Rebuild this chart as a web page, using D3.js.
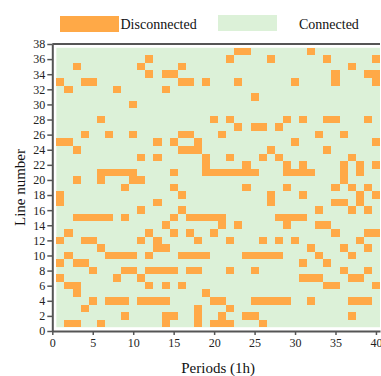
<!DOCTYPE html>
<html>
<head>
<meta charset="utf-8">
<script src="https://cdn.jsdelivr.net/npm/d3@7"></script>
<style>
  body { margin: 0; background: #fff; }
  svg { display: block; font-family: 'Liberation Serif', 'Times New Roman', serif; }
</style>
</head>
<body>
<div id="chart"></div>
<script>
const WIDTH = 381;
const HEIGHT = 376;

const periods = d3.range(1, 41);
const lineNumbers = d3.range(1, 38);
const xTicks = [0, 5, 10, 15, 20, 25, 30, 35, 40];
const yTicks = d3.range(0, 39, 2);
const legendLabels = ['Disconnected', 'Connected'];
const colors = ['#ffa947', '#dcf1d8'];

// periods in which each line is disconnected (line 1 first)
const disconnected = [
  [2, 3, 6, 14, 18, 20, 21, 22, 26],
  [9, 14, 15, 18, 21, 24, 25, 37],
  [4, 18, 22],
  [5, 7, 8, 9, 11, 12, 13, 14, 20, 21, 25, 26, 27, 28, 29, 32, 37, 38, 39],
  [3, 19],
  [2, 3, 12, 14, 16, 34, 35, 40],
  [1, 8, 11, 31, 32, 33, 37, 38],
  [5, 9, 10, 12, 13, 14, 15, 17, 18, 22, 25, 36, 39],
  [1, 3, 4, 31, 34],
  [2, 7, 8, 9, 10, 12, 16, 17, 18, 19, 24, 25, 26, 27, 28, 33, 37],
  [6, 13, 14, 32, 36, 39],
  [1, 4, 5, 11, 13, 18, 22, 26, 28, 30, 38],
  [2, 12, 15, 17, 20, 35, 39, 40],
  [14, 21, 23, 29, 33, 34],
  [3, 4, 5, 6, 7, 9, 15, 17, 18, 19, 20, 21, 28, 29, 30, 31],
  [11, 16, 33, 37, 39],
  [1, 13, 27, 35, 36, 38],
  [1, 16, 27, 31, 38, 40],
  [9, 15, 24, 29, 35, 37, 39],
  [3, 6, 10, 11, 36],
  [6, 7, 8, 9, 10, 15, 19, 20, 21, 22, 23, 24, 25, 29, 30, 31, 32, 36, 38],
  [19, 24, 29, 31, 36, 38, 40],
  [11, 13, 19, 22, 26, 28, 37],
  [3, 16, 17, 18, 27, 34],
  [1, 2, 13, 15, 18, 30, 40],
  [4, 7, 10, 16, 17, 21, 33, 36],
  [23, 25, 26, 28],
  [6, 20, 22, 29, 31, 34, 35, 39],
  [],
  [10],
  [25],
  [2, 8, 14],
  [1, 4, 5, 16, 17, 19, 23, 30, 35, 40],
  [12, 14, 15, 35, 39, 40],
  [3, 11, 16, 37],
  [12, 22, 27, 34, 40],
  [23, 24, 32],
];

const cells = [];
disconnected.forEach((row, i) => {
  row.forEach((p) => cells.push({ line: lineNumbers[i], period: p }));
});

const svg = d3
  .select('#chart')
  .append('svg')
  .attr('width', WIDTH)
  .attr('height', HEIGHT);

const x = d3.scaleLinear().domain([0, 40.5]).range([52.3, 380]);
const y = d3.scaleLinear().domain([0, 38]).range([331, 44]);

// connected background
svg
  .append('rect')
  .attr('x', x(d3.min(periods) - 0.5))
  .attr('y', y(d3.max(lineNumbers) + 0.5))
  .attr('width', x(d3.max(periods) + 0.5) - x(d3.min(periods) - 0.5))
  .attr('height', y(d3.min(lineNumbers) - 0.5) - y(d3.max(lineNumbers) + 0.5))
  .attr('fill', colors[1]);

// disconnected cells
svg
  .append('g')
  .attr('shape-rendering', 'crispEdges')
  .selectAll('rect')
  .data(cells)
  .enter()
  .append('rect')
  .attr('x', (d) => x(d.period - 0.5))
  .attr('y', (d) => y(d.line + 0.5))
  .attr('width', (d) => x(d.period + 0.5) - x(d.period - 0.5))
  .attr('height', (d) => y(d.line - 0.5) - y(d.line + 0.5))
  .attr('fill', colors[0]);

// axes
const xAxisG = svg
  .append('g')
  .attr('transform', `translate(0, ${y(0)})`)
  .call(d3.axisBottom(x).tickValues(xTicks).tickSize(4).tickPadding(3).tickSizeOuter(0));

const yAxisG = svg
  .append('g')
  .attr('transform', `translate(${x(0)}, 0)`)
  .call(d3.axisLeft(y).tickValues(yTicks).tickSize(5).tickPadding(2).tickSizeOuter(0));

// top frame line
svg
  .append('line')
  .attr('x1', x(0))
  .attr('x2', x(40.5))
  .attr('y1', y(38))
  .attr('y2', y(38))
  .attr('stroke', '#555')
  .attr('stroke-width', 2);

[xAxisG, yAxisG].forEach((g) => {
  g.select('.domain').attr('stroke', '#555').attr('stroke-width', 2);
  g.selectAll('.tick line').attr('stroke', '#555').attr('stroke-width', 1.5);
  g.selectAll('.tick text')
    .attr('fill', '#222')
    .style('font-family', "'Liberation Serif', serif")
    .style('font-size', '12px');
});

// axis titles
svg
  .append('text')
  .attr('x', (x(0) + x(40.5)) / 2 + 2)
  .attr('y', 373)
  .attr('text-anchor', 'middle')
  .attr('font-size', 15)
  .attr('fill', '#111')
  .text('Periods (1h)');

svg
  .append('text')
  .attr('transform', `translate(25, ${(y(0) + y(38)) / 2}) rotate(-90)`)
  .attr('text-anchor', 'middle')
  .attr('font-size', 15)
  .attr('fill', '#111')
  .text('Line number');

// legend
const legend = svg
  .append('g')
  .selectAll('g')
  .data(legendLabels)
  .enter()
  .append('g')
  .attr('transform', (d, i) => `translate(${i === 0 ? 60 : 218}, ${i === 0 ? 16 : 15})`);

legend
  .append('rect')
  .attr('width', 59)
  .attr('height', 16)
  .attr('fill', (d, i) => colors[i]);

legend
  .append('text')
  .attr('x', (d, i) => (i === 0 ? 60.5 : 81))
  .attr('y', (d, i) => (i === 0 ? 13 : 14))
  .attr('font-size', 14)
  .attr('fill', '#111')
  .text((d) => d);
</script>
</body>
</html>
